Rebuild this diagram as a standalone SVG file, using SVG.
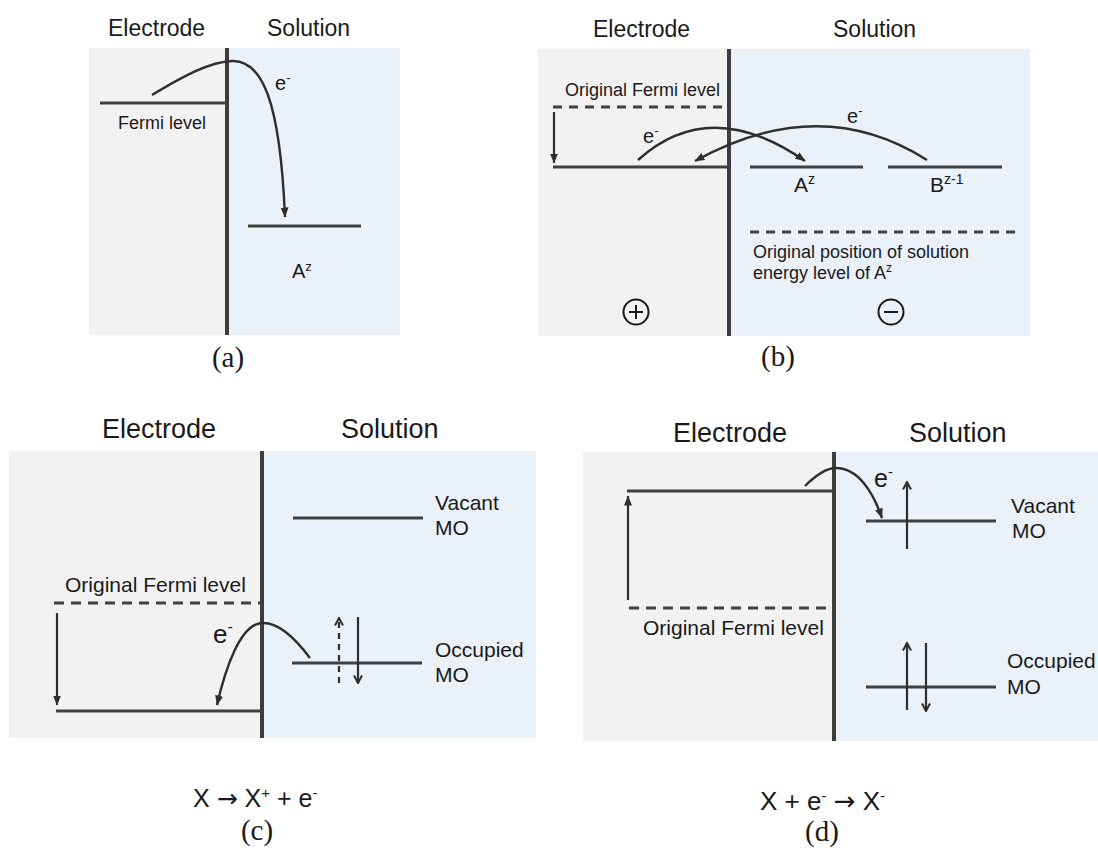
<svg xmlns="http://www.w3.org/2000/svg" width="1098" height="848" viewBox="0 0 1098 848">
<style>
.el{fill:#f2f2f2}
.so{fill:#eaf1f9}
.div{stroke:#3d3d3d;stroke-width:4;fill:none}
.lv{stroke:#404040;stroke-width:2.8;fill:none}
.dash{stroke:#404040;stroke-width:2.8;fill:none;stroke-dasharray:10 7}
.ar{stroke:#2e2e2e;stroke-width:2.2;fill:none}
.cur{stroke:#2e2e2e;stroke-width:2.4;fill:none}
text{font-family:"Liberation Sans",Arial,sans-serif;fill:#1a1a1a}
.cap{font-family:"Liberation Serif","Times New Roman",serif;font-size:29px}
.arw{font-family:"DejaVu Sans",sans-serif}
</style>
<defs>
<marker id="tri" viewBox="0 0 10 10" refX="9.5" refY="5" markerWidth="10" markerHeight="10" markerUnits="userSpaceOnUse" orient="auto">
<path d="M0,1 L10,5 L0,9 z" fill="#2e2e2e"/>
</marker>
<marker id="chev" viewBox="0 0 10 10" refX="9" refY="5" markerWidth="10" markerHeight="10" markerUnits="userSpaceOnUse" orient="auto">
<path d="M1.5,1 L9,5 L1.5,9" fill="none" stroke="#2e2e2e" stroke-width="2"/>
</marker>
</defs>

<!-- Panel (a) -->
<g id="panel-a">
<rect class="el" x="89" y="48" width="138" height="287"/>
<rect class="so" x="227" y="48" width="173" height="287"/>
<line class="div" x1="227" y1="48" x2="227" y2="335"/>
<text x="108" y="36" font-size="23">Electrode</text>
<text x="267" y="36" font-size="23">Solution</text>
<g id="a-fermi">
<line class="lv" x1="100" y1="103" x2="225" y2="103"/>
<text x="118" y="129" font-size="18">Fermi level</text>
</g>
<g id="a-Az">
<line class="lv" x1="248" y1="226" x2="361" y2="226"/>
<text x="292" y="278" font-size="20">A<tspan font-size="13" dy="-7">z</tspan></text>
</g>
<text x="275" y="90" font-size="20">e<tspan font-size="13" dy="-8">-</tspan></text>
<text class="cap" x="228" y="367" text-anchor="middle">(a)</text>
</g>

<!-- Panel (b) -->
<g id="panel-b">
<rect class="el" x="538" y="49" width="191" height="287"/>
<rect class="so" x="729" y="49" width="301" height="287"/>
<line class="div" x1="729" y1="49" x2="729" y2="336"/>
<text x="593" y="37" font-size="23">Electrode</text>
<text x="833" y="37" font-size="23">Solution</text>
<g id="b-orig-fermi">
<line class="dash" x1="553" y1="107" x2="729" y2="107" style="stroke-dasharray:9 7"/>
<text x="565" y="96" font-size="18">Original Fermi level</text>
</g>
<g id="b-fermi">
<line class="lv" x1="553" y1="167" x2="729" y2="167"/>
</g>
<g id="b-Az">
<line class="lv" x1="750" y1="167" x2="863" y2="167"/>
<text x="794" y="192" font-size="21">A<tspan font-size="14" dy="-8">z</tspan></text>
</g>
<g id="b-Bz1">
<line class="lv" x1="888" y1="167" x2="1002" y2="167"/>
<text x="930" y="192" font-size="21">B<tspan font-size="14" dy="-8">z-1</tspan></text>
</g>
<g id="b-orig-Az">
<line class="dash" x1="750" y1="232" x2="1016" y2="232" style="stroke-dasharray:9 7"/>
<text x="753" y="258" font-size="18">Original position of solution</text>
<text x="753" y="279" font-size="18">energy level of A<tspan font-size="12" dy="-7">z</tspan></text>
</g>
<text x="643" y="143" font-size="20">e<tspan font-size="13" dy="-8">-</tspan></text>
<text x="847" y="123" font-size="20">e<tspan font-size="13" dy="-8">-</tspan></text>
<g id="b-plus">
<circle cx="636" cy="312" r="12.5" fill="none" stroke="#1a1a1a" stroke-width="2"/>
<line x1="629" y1="312" x2="643" y2="312" stroke="#1a1a1a" stroke-width="2"/>
<line x1="636" y1="305" x2="636" y2="319" stroke="#1a1a1a" stroke-width="2"/>
</g>
<g id="b-minus">
<circle cx="891" cy="312" r="12.5" fill="none" stroke="#1a1a1a" stroke-width="2"/>
<line x1="884" y1="312" x2="898" y2="312" stroke="#1a1a1a" stroke-width="2"/>
</g>
<text class="cap" x="778" y="366" text-anchor="middle">(b)</text>
</g>

<!-- Panel (c) -->
<g id="panel-c">
<rect class="el" x="9" y="451" width="253" height="287"/>
<rect class="so" x="262" y="451" width="274" height="287"/>
<line class="div" x1="262" y1="451" x2="262" y2="738"/>
<text x="102" y="438" font-size="27">Electrode</text>
<text x="341" y="438" font-size="27">Solution</text>
<g id="c-orig-fermi">
<line class="dash" x1="54" y1="603" x2="262" y2="603"/>
<text x="65" y="592" font-size="21">Original Fermi level</text>
</g>
<g id="c-fermi">
<line class="lv" x1="56" y1="711" x2="262" y2="711"/>
</g>
<g id="c-vacant">
<line class="lv" x1="293" y1="518" x2="423" y2="518"/>
<text x="435" y="510" font-size="21">Vacant</text>
<text x="435" y="535" font-size="21">MO</text>
</g>
<g id="c-occupied">
<line class="lv" x1="292" y1="663" x2="422" y2="663"/>
<text x="435" y="657" font-size="21">Occupied</text>
<text x="435" y="682" font-size="21">MO</text>
</g>
<text x="213" y="643" font-size="26">e<tspan font-size="16" dy="-11">-</tspan></text>
<text x="193" y="807" font-size="25">X <tspan class="arw">→</tspan> X<tspan font-size="15" dy="-9">+</tspan><tspan dy="9"> + e</tspan><tspan font-size="15" dy="-9">-</tspan></text>
<text class="cap" x="257" y="840" text-anchor="middle">(c)</text>
</g>

<!-- Panel (d) -->
<g id="panel-d">
<rect class="el" x="583" y="452" width="251" height="289"/>
<rect class="so" x="834" y="452" width="264" height="289"/>
<line class="div" x1="834" y1="452" x2="834" y2="741"/>
<text x="673" y="442" font-size="27">Electrode</text>
<text x="909" y="442" font-size="27">Solution</text>
<g id="d-fermi">
<line class="lv" x1="627" y1="491" x2="834" y2="491"/>
</g>
<g id="d-orig-fermi">
<line class="dash" x1="629" y1="608" x2="834" y2="608"/>
<text x="643" y="635" font-size="21">Original Fermi level</text>
</g>
<g id="d-vacant">
<line class="lv" x1="866" y1="521" x2="996" y2="521"/>
<text x="1011" y="513" font-size="21">Vacant</text>
<text x="1012" y="538" font-size="21">MO</text>
</g>
<g id="d-occupied">
<line class="lv" x1="866" y1="687" x2="996" y2="687"/>
<text x="1007" y="668" font-size="21">Occupied</text>
<text x="1007" y="694" font-size="21">MO</text>
</g>
<text x="874" y="487" font-size="25">e<tspan font-size="15" dy="-10">-</tspan></text>
<text x="760" y="810" font-size="26">X + e<tspan font-size="15" dy="-9">-</tspan><tspan dy="9"> </tspan><tspan class="arw">→</tspan> X<tspan font-size="15" dy="-9">-</tspan></text>
<text class="cap" x="822" y="841" text-anchor="middle">(d)</text>
</g>

<!-- Connectors -->
<g id="connectors">
<path class="cur" d="M152,95 C185,75 210,62 232,61 C262,60 280,100 285,217" marker-end="url(#tri)"/>
<path class="cur" d="M638,160 Q710,95 805,161" marker-end="url(#tri)"/>
<path class="cur" d="M927,160 Q820,92 695,161" marker-end="url(#tri)"/>
<line class="ar" x1="554" y1="112" x2="554" y2="163" marker-end="url(#tri)"/>
<path class="cur" d="M310,658 C295,638 278,622 262,623 C240,624 225,670 217,705" marker-end="url(#tri)"/>
<line class="ar" x1="57" y1="613" x2="57" y2="705" marker-end="url(#tri)"/>
<line class="ar" x1="339" y1="683" x2="339" y2="618" style="stroke-dasharray:6 5" marker-end="url(#chev)"/>
<line class="ar" x1="358" y1="617" x2="358" y2="683" marker-end="url(#chev)"/>
<path class="cur" d="M805,486 C815,476 825,468 836,468 C858,468 873,492 882,518" marker-end="url(#tri)"/>
<line class="ar" x1="628" y1="600" x2="628" y2="496" marker-end="url(#tri)"/>
<line class="ar" x1="907" y1="549" x2="907" y2="482" marker-end="url(#chev)"/>
<line class="ar" x1="907" y1="710" x2="907" y2="643" marker-end="url(#chev)"/>
<line class="ar" x1="926" y1="643" x2="926" y2="711" marker-end="url(#chev)"/>
</g>
</svg>
